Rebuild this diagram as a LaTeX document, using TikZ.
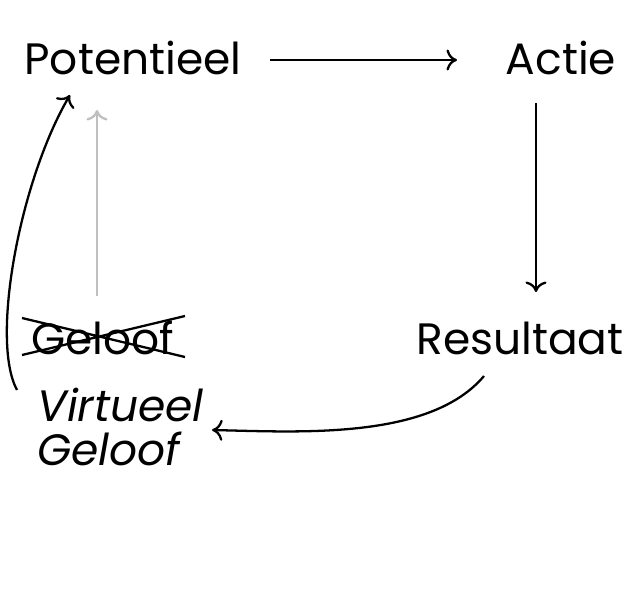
\documentclass[tikz,border=0pt]{standalone}
\usepackage{fontspec}
\setmainfont{Poppins}
\usetikzlibrary{arrows.meta}
\begin{document}
\begin{tikzpicture}[x=0.02cm,y=-0.02cm,
  lbl/.style={font=\fontsize{25}{28}\selectfont, inner sep=0pt},
  arr/.style={-{To[length=6pt,width=12pt]}, line width=1.3pt}]
\useasboundingbox (0,0) rectangle (640,600);
\node[lbl] (pot) at (133,58) {Potentieel};
\node[lbl] (act) at (561,58) {Actie};
\node[lbl] (gel) at (103,338) {Geloof};
\node[lbl] (res) at (520,338) {Resultaat};
\node[lbl, anchor=base west, font=\fontsize{25}{28}\selectfont\itshape] (vir) at (37,421) {Virtueel};
\node[lbl, anchor=base west, font=\fontsize{25}{28}\selectfont\itshape] (vir2) at (37,465) {Geloof};
\coordinate (a1) at (270,60); \coordinate (a2) at (457,60);
\draw[arr] (a1) -- (a2);
\coordinate (b1) at (536,103); \coordinate (b2) at (536,292);
\draw[arr] (b1) -- (b2);
\coordinate (c1) at (97,296); \coordinate (c2) at (97,110);
\draw[arr, gray!50] (c1) -- (c2);
\coordinate (d1) at (484,376); \coordinate (d2) at (212,430);
\draw[arr] (d1) .. controls (430,440) and (300,432) .. (d2);
\coordinate (e1) at (17,390); \coordinate (e2) at (70,95);
\draw[arr] (e1) .. controls (-10,340) and (20,180) .. (e2);
\coordinate (x1) at (22,318); \coordinate (x2) at (185,357);
\coordinate (x3) at (22,355); \coordinate (x4) at (185,316);
\draw[line width=1.3pt] (x1) -- (x2) (x3) -- (x4);
\end{tikzpicture}
\end{document}
